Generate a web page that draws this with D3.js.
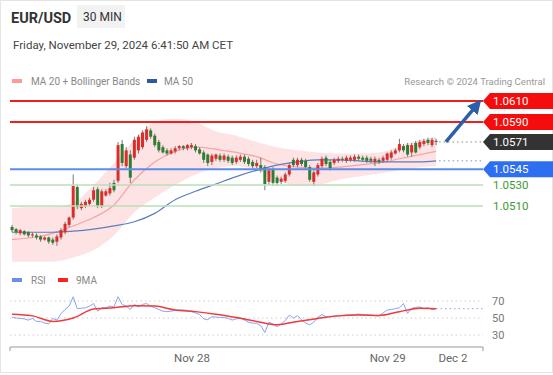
<!DOCTYPE html>
<html lang="en">
	<head>
		<meta charset="utf-8">
		<title>EUR/USD 30 MIN</title>
		<script type="text/javascript" src="https://cdn.jsdelivr.net/npm/d3@7"></script>
		<style>
			body{
				margin:0;
				background-color:white;
				font-family:Roboto, Arial, sans-serif;
			}
		</style>
	</head>
	<body>
		<div id="chart"></div>

		<script type="text/javascript">

			// candles, 30 min, [open, high, low, close]
			var candles = [
				[1.0490,1.0492,1.0485,1.0487],[1.0488,1.0489,1.0483,1.0485],[1.0484,1.0488,1.0482,1.0487],[1.0486,1.0487,1.0482,1.0483],
				[1.0485,1.0486,1.0480,1.0482],[1.0482,1.0485,1.0480,1.0483],[1.0482,1.0484,1.0478,1.0480],[1.0481,1.0482,1.0476,1.0478],
				[1.0478,1.0481,1.0477,1.0480],[1.0480,1.0481,1.0474,1.0476],[1.0478,1.0480,1.0473,1.0475],[1.0476,1.0483,1.0472,1.0481],
				[1.0480,1.0489,1.0478,1.0487],[1.0485,1.0495,1.0483,1.0493],[1.0492,1.0500,1.0490,1.0499],[1.0499,1.0540,1.0497,1.0529],
				[1.0528,1.0530,1.0507,1.0509],[1.0508,1.0514,1.0506,1.0512],[1.0510,1.0516,1.0508,1.0514],[1.0512,1.0518,1.0510,1.0516],
				[1.0516,1.0528,1.0514,1.0525],[1.0526,1.0528,1.0508,1.0510],[1.0510,1.0526,1.0508,1.0524],[1.0520,1.0526,1.0519,1.0524],
				[1.0522,1.0532,1.0520,1.0527],[1.0532,1.0535,1.0523,1.0525],[1.0534,1.0571,1.0532,1.0568],[1.0569,1.0573,1.0548,1.0551],
				[1.0548,1.0566,1.0546,1.0563],[1.0559,1.0563,1.0532,1.0537],[1.0556,1.0576,1.0554,1.0573],[1.0563,1.0578,1.0560,1.0576],
				[1.0566,1.0582,1.0564,1.0580],[1.0573,1.0586,1.0571,1.0583],[1.0582,1.0584,1.0574,1.0576],[1.0577,1.0579,1.0566,1.0568],
				[1.0571,1.0573,1.0561,1.0563],[1.0566,1.0568,1.0560,1.0561],[1.0563,1.0565,1.0558,1.0560],[1.0560,1.0565,1.0559,1.0563],
				[1.0562,1.0567,1.0560,1.0565],[1.0565,1.0568,1.0563,1.0567],[1.0567,1.0568,1.0563,1.0565],[1.0565,1.0569,1.0563,1.0568],
				[1.0566,1.0570,1.0564,1.0568],[1.0567,1.0569,1.0561,1.0563],[1.0564,1.0566,1.0559,1.0560],[1.0561,1.0563,1.0551,1.0554],
				[1.0559,1.0560,1.0548,1.0551],[1.0552,1.0560,1.0549,1.0558],[1.0555,1.0560,1.0553,1.0559],[1.0558,1.0560,1.0552,1.0554],
				[1.0554,1.0560,1.0552,1.0558],[1.0557,1.0559,1.0551,1.0553],[1.0556,1.0558,1.0549,1.0551],[1.0552,1.0558,1.0550,1.0556],
				[1.0554,1.0559,1.0552,1.0557],[1.0557,1.0559,1.0550,1.0552],[1.0555,1.0557,1.0548,1.0550],[1.0552,1.0554,1.0546,1.0548],
				[1.0548,1.0554,1.0546,1.0551],[1.0549,1.0556,1.0542,1.0544],[1.0547,1.0549,1.0525,1.0531],[1.0533,1.0546,1.0530,1.0544],
				[1.0545,1.0547,1.0529,1.0532],[1.0537,1.0539,1.0529,1.0532],[1.0533,1.0538,1.0531,1.0536],[1.0534,1.0542,1.0532,1.0540],
				[1.0540,1.0551,1.0538,1.0549],[1.0554,1.0556,1.0547,1.0549],[1.0549,1.0556,1.0547,1.0554],[1.0554,1.0556,1.0548,1.0550],
				[1.0553,1.0555,1.0545,1.0547],[1.0547,1.0549,1.0533,1.0535],[1.0533,1.0544,1.0529,1.0542],[1.0540,1.0551,1.0538,1.0549],
				[1.0548,1.0557,1.0546,1.0555],[1.0556,1.0558,1.0548,1.0550],[1.0552,1.0554,1.0544,1.0546],[1.0551,1.0556,1.0549,1.0554],
				[1.0553,1.0557,1.0551,1.0555],[1.0555,1.0557,1.0552,1.0554],[1.0553,1.0558,1.0551,1.0556],[1.0554,1.0558,1.0552,1.0556],
				[1.0554,1.0559,1.0552,1.0557],[1.0557,1.0559,1.0553,1.0555],[1.0556,1.0558,1.0552,1.0554],[1.0556,1.0558,1.0551,1.0553],
				[1.0555,1.0557,1.0551,1.0553],[1.0552,1.0557,1.0548,1.0555],[1.0554,1.0556,1.0550,1.0552],[1.0553,1.0558,1.0551,1.0556],
				[1.0554,1.0561,1.0552,1.0560],[1.0556,1.0563,1.0554,1.0561],[1.0560,1.0565,1.0559,1.0563],[1.0563,1.0574,1.0561,1.0569],
				[1.0567,1.0569,1.0561,1.0563],[1.0568,1.0570,1.0557,1.0559],[1.0561,1.0570,1.0557,1.0568],[1.0570,1.0572,1.0560,1.0561],
				[1.0566,1.0573,1.0564,1.0571],[1.0569,1.0574,1.0567,1.0572],[1.0573,1.0575,1.0568,1.0570],[1.0568,1.0575,1.0566,1.0573],
				[1.0572,1.0574,1.0568,1.0571]
			]

			// indicator readings, taken at these candle indexes
			var maIndex = [0,5,10,15,20,25,30,35,40,45,50,55,60,65,70,75,80,85,90,95,100,104]
			var ma20 = [1.0478,1.0480,1.0484,1.0491,1.0499,1.0511,1.0535,1.0552,1.0562,1.0566,1.0564,1.0561,1.0557,1.0550,1.0547,1.0546,1.0547,1.0549,1.0551,1.0555,1.0559,1.0562]
			var bbUpper = [1.0508,1.0509,1.0509,1.0513,1.0530,1.0551,1.0573,1.0590,1.0593,1.0590,1.0581,1.0577,1.0571,1.0566,1.0563,1.0561,1.0560,1.0560,1.0561,1.0567,1.0573,1.0576]
			var bbLower = [1.0457,1.0457,1.0457,1.0461,1.0468,1.0482,1.0504,1.0518,1.0530,1.0540,1.0546,1.0548,1.0544,1.0535,1.0529,1.0530,1.0535,1.0538,1.0541,1.0544,1.0547,1.0548]
			var ma50 = [1.0485,1.0485,1.0485,1.0486,1.0488,1.0491,1.0495,1.0503,1.0516,1.0524,1.0531,1.0538,1.0544,1.0549,1.0552,1.0554,1.0554,1.0553,1.0552,1.0552,1.0552,1.0553]

			// RSI per candle, and its 9 period average
			var rsi = [51,50,49.5,49,47.5,49.5,46,46,44,43,49.5,47.5,55,60,64,75,61,61.5,62,64,
				67,58,62,62,64,63,75,66,64,60,66,63,66,67,64,62,60,58,57.5,58,
				59,59.5,59.5,59,57.5,56,54,49,48,51.5,51,50.8,50.5,49.5,47.6,49,49.6,47.6,45,44,
				43.7,41,33,45,43,39.8,43,47,53.5,50,52.7,48,44,42,45,51,54,51.5,52,52.4,
				52.5,53,53.5,53.5,54,54.7,54,53.5,53.5,53,52.5,56,59.4,60,61,62,67,55.5,61.4,62.5,
				63,61,62,60,61]
			var rsiMa = [54.3,52.5,46,50,60.5,62,64.5,64,59.5,57.5,54.5,50.5,46,42,46,49.5,52.5,53.5,53,57.4,61.4,61]

			var resistances = [1.0610, 1.0590]
			var pivot = 1.0545
			var supports = [1.0530, 1.0510]
			var lastPrice = 1.0571
			var rsiTicks = [70, 50, 30]
			var timeTicks = [44, 92, 108]
			var timeLabels = ["Nov 28", "Nov 29", "Dec 2"]

			var w = 553
			var h = 375
			var left = 10
			var right = 483

			var svg = d3.select("#chart").append("svg")
			.attr("width",w)
			.attr("height",h)
			.style("font-family","Roboto, Arial, sans-serif")

			svg.append("rect")
			.attr("x",0.5).attr("y",0.5)
			.attr("width",w-1).attr("height",372)
			.attr("fill","white")
			.attr("stroke","#e4e4e4")

			var xScale = d3.scaleLinear()
			.domain([-0.5,115.5])
			.range([left,right])

			var yScale = d3.scaleLinear()
			.domain([1.0510,1.0610])
			.range([206,101])

			var rsiScale = d3.scaleLinear()
			.domain([30,70])
			.range([335,301])

			// header
			svg.append("text").attr("x",11).attr("y",23)
			.attr("font-size",14.5).attr("font-weight","bold").attr("fill","#333")
			.text("EUR/USD")

			svg.append("rect").attr("x",77).attr("y",5).attr("width",48).attr("height",23)
			.attr("fill","#f2f2f2")
			svg.append("text").attr("x",83).attr("y",21)
			.attr("font-size",12).attr("fill","#333")
			.text("30 MIN")

			svg.append("text").attr("x",13).attr("y",49)
			.attr("font-size",11.5).attr("fill","#444")
			.text("Friday, November 29, 2024 6:41:50 AM CET")

			// legend
			svg.append("rect").attr("x",12).attr("y",79).attr("width",10).attr("height",4).attr("fill","#f99")
			svg.append("text").attr("x",31).attr("y",85).attr("font-size",10).attr("fill","#888")
			.text("MA 20 + Bollinger Bands")
			svg.append("rect").attr("x",147).attr("y",79).attr("width",10).attr("height",4).attr("fill","#2b5aa0")
			svg.append("text").attr("x",164).attr("y",85).attr("font-size",10).attr("fill","#888")
			.text("MA 50")
			svg.append("text").attr("x",545).attr("y",85).attr("font-size",9.6).attr("fill","#999")
			.attr("text-anchor","end")
			.text("Research \u00a9 2024 Trading Central")

			svg.append("clipPath").attr("id","plotClip")
			.append("rect").attr("x",left).attr("y",70).attr("width",right-left).attr("height",193)

			var plot = svg.append("g").attr("clip-path","url(#plotClip)")

			// bollinger band
			var band = d3.area()
			.x(function(d,i){ return xScale(maIndex[i]) })
			.y0(function(d,i){ return yScale(bbLower[i]) })
			.y1(function(d,i){ return yScale(bbUpper[i]) })
			.curve(d3.curveMonotoneX)

			plot.append("path").datum(maIndex)
			.attr("d",band)
			.attr("fill","#fde3e3")

			var line = function(values){
				return d3.line()
				.x(function(d,i){ return xScale(maIndex[i]) })
				.y(function(d){ return yScale(d) })
				.curve(d3.curveMonotoneX)(values)
			}

			plot.append("path").attr("d",line(ma20))
			.attr("fill","none").attr("stroke","#f7a3a3").attr("stroke-width",1.2)
			plot.append("path").attr("d",line(ma50))
			.attr("fill","none").attr("stroke","#5d7fbd").attr("stroke-width",1.2)

			// level lines
			resistances.forEach(function(v){
				svg.append("line").attr("x1",left).attr("x2",right)
				.attr("y1",yScale(v)).attr("y2",yScale(v))
				.attr("stroke","#f01e1e").attr("stroke-width",2)
			})
			svg.append("line").attr("x1",left).attr("x2",right)
			.attr("y1",yScale(pivot)).attr("y2",yScale(pivot))
			.attr("stroke","#5b8def").attr("stroke-width",2)
			supports.forEach(function(v){
				svg.append("line").attr("x1",left).attr("x2",right)
				.attr("y1",yScale(v)).attr("y2",yScale(v))
				.attr("stroke","#b9dfb4").attr("stroke-width",1.5)
			})

			// candles
			var bw = 3
			var candle = plot.selectAll(".candle")
			.data(candles)
			.enter()
			.append("g")
			.attr("class","candle")

			candle.append("line")
			.attr("x1",function(d,i){ return xScale(i) })
			.attr("x2",function(d,i){ return xScale(i) })
			.attr("y1",function(d){ return yScale(d[1]) })
			.attr("y2",function(d){ return yScale(d[2]) })
			.attr("stroke","#777")
			.attr("stroke-width",1)

			candle.append("rect")
			.attr("x",function(d,i){ return xScale(i)-bw/2 })
			.attr("y",function(d){ return yScale(Math.max(d[0],d[3])) })
			.attr("width",bw)
			.attr("height",function(d){ return Math.max(1,Math.abs(yScale(d[0])-yScale(d[3]))) })
			.attr("fill",function(d){ return d[3]>=d[0] ? "#e02b2b" : "#2e7d32" })

			// last price / ma50 dotted extensions
			var last = candles.length-1
			svg.append("line").attr("x1",xScale(last)+3).attr("x2",right)
			.attr("y1",yScale(lastPrice)).attr("y2",yScale(lastPrice))
			.attr("stroke","#888").attr("stroke-dasharray","1.5,3")
			svg.append("line").attr("x1",xScale(last)+3).attr("x2",right)
			.attr("y1",yScale(ma50[ma50.length-1])).attr("y2",yScale(ma50[ma50.length-1]))
			.attr("stroke","#6a8fd8").attr("stroke-dasharray","1.5,3")

			// arrow
			var defs = svg.append("defs")
			defs.append("marker").attr("id","head")
			.attr("viewBox","0 0 10 10").attr("refX",2).attr("refY",5)
			.attr("markerWidth",4).attr("markerHeight",4)
			.attr("orient","auto")
			.append("path").attr("d","M0,0 L10,5 L0,10 z").attr("fill","#2c5fa8")

			svg.append("line")
			.attr("x1",xScale(106.4)).attr("y1",yScale(1.0571))
			.attr("x2",xScale(113.3)).attr("y2",yScale(1.0603))
			.attr("stroke","#2c5fa8").attr("stroke-width",3.5)
			.attr("marker-end","url(#head)")

			// price tags
			function tag(v, color, txt){
				var y = yScale(v)
				svg.append("path")
				.attr("d","M"+right+","+y+" L"+(right+7)+","+(y-8)+" L"+w+","+(y-8)+" L"+w+","+(y+8)+" L"+(right+7)+","+(y+8)+" Z")
				.attr("fill",color)
				svg.append("text").attr("x",right+10).attr("y",y+4)
				.attr("font-size",11.5).attr("fill","white")
				.text(txt)
			}
			resistances.forEach(function(v){ tag(v,"#f50d0d",v.toFixed(4)) })
			tag(lastPrice,"#333333",lastPrice.toFixed(4))
			tag(pivot,"#2d6ff0",pivot.toFixed(4))
			supports.forEach(function(v){
				svg.append("text").attr("x",right+10).attr("y",yScale(v)+4)
				.attr("font-size",11.5).attr("fill","#3c9a32")
				.text(v.toFixed(4))
			})

			// RSI panel
			svg.append("rect").attr("x",12).attr("y",278).attr("width",10).attr("height",4).attr("fill","#6b8ee8")
			svg.append("text").attr("x",31).attr("y",284).attr("font-size",10).attr("fill","#888").text("RSI")
			svg.append("rect").attr("x",58).attr("y",278).attr("width",10).attr("height",4).attr("fill","#f22")
			svg.append("text").attr("x",76).attr("y",284).attr("font-size",10).attr("fill","#888").text("9MA")

			rsiTicks.forEach(function(v){
				svg.append("line").attr("x1",left).attr("x2",right)
				.attr("y1",rsiScale(v)).attr("y2",rsiScale(v))
				.attr("stroke","#ccc").attr("stroke-dasharray","1.5,3")
				svg.append("text").attr("x",right+9).attr("y",rsiScale(v)+4)
				.attr("font-size",11).attr("fill","#777").text(v)
			})

			svg.append("path")
			.attr("d",d3.line()
				.x(function(d,i){ return xScale(i) })
				.y(function(d){ return rsiScale(d) })(rsi))
			.attr("fill","none").attr("stroke","#88a4f0").attr("stroke-width",1)

			svg.append("line").attr("x1",xScale(last)).attr("x2",right)
			.attr("y1",rsiScale(rsi[last])).attr("y2",rsiScale(rsi[last]))
			.attr("stroke","#88a4f0").attr("stroke-dasharray","1.5,3")

			svg.append("path")
			.attr("d",d3.line()
				.x(function(d,i){ return xScale(maIndex[i]) })
				.y(function(d){ return rsiScale(d) })
				.curve(d3.curveMonotoneX)(rsiMa))
			.attr("fill","none").attr("stroke","#f23a3a").attr("stroke-width",1.5)

			// time axis
			var xAxis = d3.axisBottom(xScale)
			.tickValues(timeTicks)
			.tickFormat(function(d,i){ return timeLabels[i] })
			.tickSize(0)
			.tickPadding(7)

			var ax = svg.append("g")
			.attr("transform","translate(0,347)")
			.call(xAxis)
			ax.select(".domain").attr("stroke","#999").attr("d","M"+left+",4V0H"+right+"V4")
			ax.selectAll("text").attr("font-size",11.5).attr("fill","#666").attr("font-family","Roboto, Arial, sans-serif")

		</script>
	</body>
</html>
